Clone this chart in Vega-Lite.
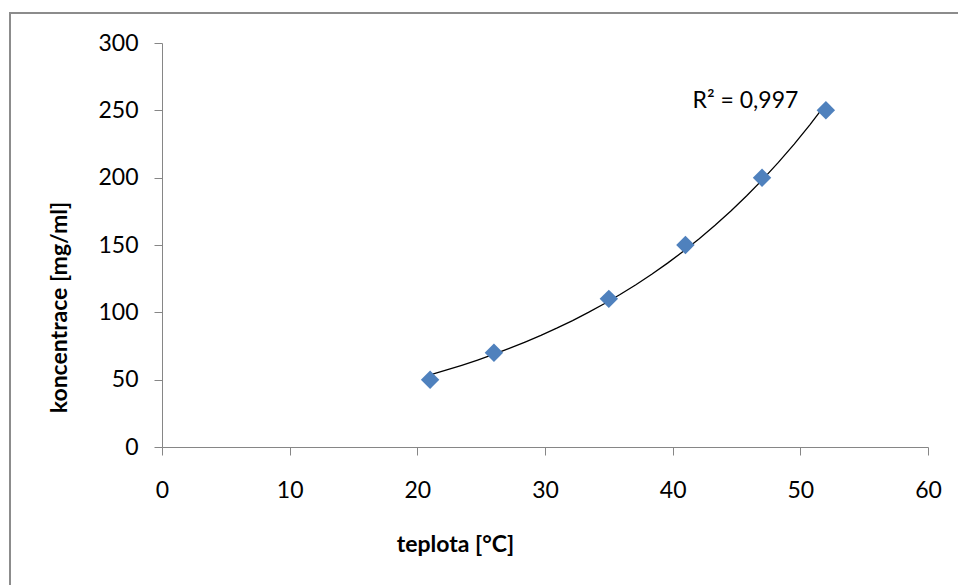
{
  "$schema": "https://vega.github.io/schema/vega-lite/v6.json",
  "autosize": "none",
  "width": 960,
  "height": 580,
  "padding": {"left": 10, "top": 13, "right": 0, "bottom": 0},
  "background": "white",
  "config": {
    "view": {"stroke": "#8c8c8c", "strokeWidth": 2},
    "font": "Lato",
    "axis": {
      "grid": false,
      "domainColor": "#868686",
      "domainWidth": 1,
      "tickColor": "#868686",
      "tickSize": 8,
      "labelFlush": false,
      "labelOverlap": false,
      "labelFont": "Lato",
      "labelFontSize": 23,
      "labelColor": "#000000",
      "titleFont": "Lato",
      "titleFontSize": 23,
      "titleFontWeight": "bold",
      "titleColor": "#000000"
    }
  },
  "data": {
    "values": [
      {"teplota": 21, "koncentrace": 50},
      {"teplota": 26, "koncentrace": 70},
      {"teplota": 35, "koncentrace": 110},
      {"teplota": 41, "koncentrace": 150},
      {"teplota": 47, "koncentrace": 200},
      {"teplota": 52, "koncentrace": 250}
    ]
  },
  "layer": [
    {
      "transform": [
        {"regression": "koncentrace", "on": "teplota", "method": "exp"}
      ],
      "mark": {"type": "line", "color": "#000000", "strokeWidth": 1.3},
      "encoding": {
        "x": {"field": "teplota", "type": "quantitative"},
        "y": {"field": "koncentrace", "type": "quantitative"}
      }
    },
    {
      "mark": {"type": "point", "shape": "diamond", "filled": true, "size": 340, "color": "#4F81BD", "opacity": 1},
      "encoding": {
        "x": {
          "field": "teplota",
          "type": "quantitative",
          "scale": {"domain": [0, 60], "range": [152, 918], "nice": false, "zero": false},
          "axis": {
            "title": "teplota [°C]",
            "orient": "bottom",
            "offset": -146,
            "values": [0, 10, 20, 30, 40, 50, 60],
            "labelPadding": 24,
            "titleX": 445,
            "titleY": 104,
            "titleAlign": "center",
            "titleBaseline": "alphabetic"
          }
        },
        "y": {
          "field": "koncentrace",
          "type": "quantitative",
          "scale": {"domain": [0, 300], "range": [434, 30], "nice": false, "zero": false},
          "axis": {
            "title": "koncentrace [mg/ml]",
            "orient": "left",
            "offset": -152,
            "values": [0, 50, 100, 150, 200, 250, 300],
            "labelPadding": 16,
            "titleX": -96,
            "titleY": 294,
            "titleAngle": -90,
            "titleAlign": "center",
            "titleBaseline": "alphabetic"
          }
        }
      }
    },
    {
      "data": {"values": [{"popis": "R² = 0,997"}]},
      "mark": {"type": "text", "font": "Lato", "fontSize": 23, "color": "#000000", "align": "center", "baseline": "alphabetic"},
      "encoding": {
        "text": {"field": "popis"},
        "x": {"datum": 45.7, "type": "quantitative"},
        "y": {"datum": 251.7, "type": "quantitative"}
      }
    }
  ]
}
